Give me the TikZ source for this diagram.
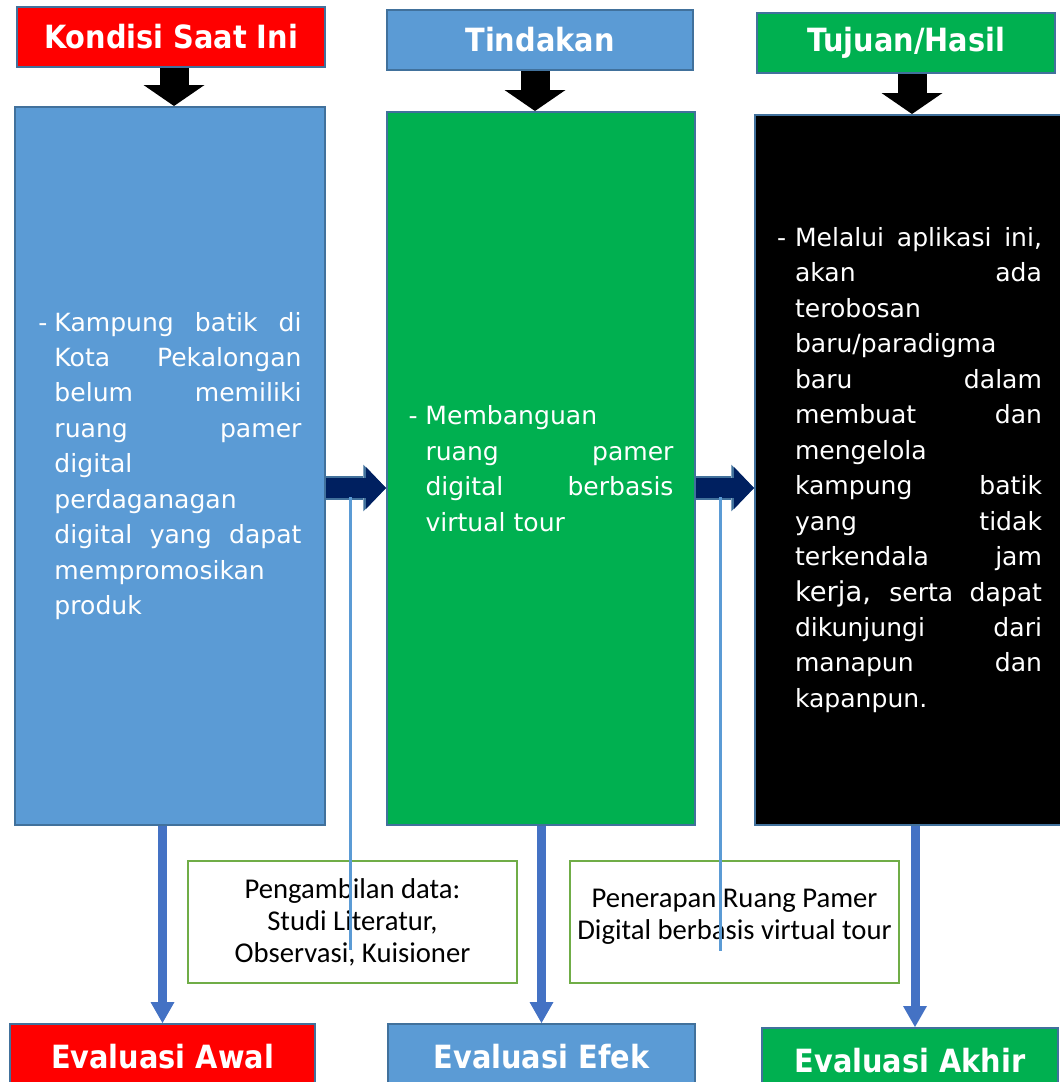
\documentclass[tikz,border=0pt]{standalone}
\usepackage{fontspec}
\setmainfont{DejaVu Sans Condensed}
\newfontfamily\dejavu{DejaVu Sans}
\newfontfamily\carlito{Carlito}
\usetikzlibrary{arrows.meta}
\definecolor{merah}{HTML}{FF0000}
\definecolor{biru}{HTML}{5B9BD5}
\definecolor{hijau}{HTML}{00B050}
\definecolor{garis}{HTML}{41719C}
\definecolor{navy}{HTML}{002060}
\definecolor{biruarah}{HTML}{4472C4}
\definecolor{hijaumuda}{HTML}{70AD47}
\newcommand{\baris}[1]{\makebox[\linewidth][s]{#1}\\}
\newcommand{\poin}[3]{\makebox[#1][l]{-}\parbox[t]{#2}{#3}}
\tikzset{judul/.style={draw=garis,line width=1.5pt,minimum height=45pt,inner sep=0pt,text=white,font=\fontsize{24}{28}\selectfont\bfseries},
kotak/.style={draw=garis,line width=1.5pt,inner sep=0pt,text=white,font=\dejavu\fontsize{18.8}{26.6}\selectfont},
catatan/.style={draw=hijaumuda,line width=1.5pt,fill=white,minimum width=246.75pt,minimum height=91.5pt,align=center,font=\carlito\fontsize{21.5}{24}\selectfont},
turun/.style={black,line width=21.75pt,-{Triangle[width=45.75pt,length=15.75pt,line width=0pt]}},
kanantepi/.style={garis,line width=17.5pt,-{Triangle[width=35pt,length=17pt,line width=0pt]}},
kanan/.style={navy,line width=15pt,-{Triangle[width=31.5pt,length=15pt,line width=0pt]}},
evaluasi/.style={biruarah,line width=6.75pt,-{Triangle[width=18pt,length=15.75pt,line width=0pt]}},
penanda/.style={biru,line width=2.25pt}}
\begin{document}
\begin{tikzpicture}[x=0.75pt,y=-0.75pt]
\useasboundingbox (0,0) rectangle (1060,1082);
% judul kolom
\node[judul,fill=merah,minimum width=231pt] (t1) at (171,37) {Kondisi Saat Ini};
\node[judul,fill=biru,minimum width=229.5pt] (t2) at (540,40) {Tindakan};
\node[judul,fill=hijau,minimum width=223.5pt] (t3) at (906,43) {Tujuan/Hasil};
% isi kolom
\node[kotak,fill=biru,minimum width=232.5pt,minimum height=538.5pt] (b1) at (170,466) {\poin{12pt}{185.25pt}{\baris{Kampung batik di}\baris{Kota Pekalongan}\baris{belum memiliki}\baris{ruang pamer}digital\\perdaganagan\\\baris{digital yang dapat}mempromosikan\\produk}};
\node[kotak,fill=hijau,minimum width=231pt,minimum height=534.75pt] (b2) at (541,468.5) {\poin{12.75pt}{186pt}{Membanguan\\\baris{ruang pamer}\baris{digital berbasis}virtual tour}};
\node[kotak,fill=black,minimum width=231.75pt,minimum height=532.5pt] (b3) at (909.5,470) {\poin{13.5pt}{185.25pt}{\baris{Melalui aplikasi ini,}\baris{akan ada}terobosan\\baru/paradigma\\\baris{baru dalam}\baris{membuat dan}mengelola\\\baris{kampung batik}\baris{yang tidak}\baris{terkendala jam}\baris{{\fontsize{20.5}{26.6}\selectfont kerja,} serta dapat}\baris{dikunjungi dari}\baris{manapun dan}kapanpun.}};
% keterangan
\node[catatan] (g1) at (352.5,922) {Pengambilan data:\\Studi Literatur,\\Observasi, Kuisioner};
\node[catatan] (g2) at (734.5,922) {Penerapan Ruang Pamer\\Digital berbasis virtual tour\\[-12pt]};
% evaluasi
\node[judul,fill=merah,minimum width=228.75pt,minimum height=49.5pt] (e1) at (162.5,1057) {Evaluasi Awal};
\node[judul,fill=biru,minimum width=230.25pt,minimum height=49.5pt] (e2) at (541.5,1057) {Evaluasi Efek};
\node[judul,fill=hijau,minimum width=222pt,minimum height=49.5pt] (e3) at (910,1061) {Evaluasi Akhir};
\coordinate (lvl) at (0,488);
\coordinate (pangkal1) at (350,497);
\coordinate (ujung1) at (350,950);
\coordinate (pangkal2) at (720,497);
\coordinate (ujung2) at (720,951);
% panah
\draw[turun] ([xshift=2.25pt]t1.south) -- ([xshift=2.25pt]t1.south |- b1.north);
\draw[turun] ([xshift=-3.75pt]t2.south) -- ([xshift=-3.75pt]t2.south |- b2.north);
\draw[turun] ([xshift=4.5pt]t3.south) -- ([xshift=4.5pt]t3.south |- b3.north);
\draw[kanantepi] (b1.east |- lvl) -- (b2.west |- lvl);
\draw[kanan] (b1.east |- lvl) -- (b2.west |- lvl);
\draw[kanantepi] (b2.east |- lvl) -- (b3.west |- lvl);
\draw[kanan] (b2.east |- lvl) -- (b3.west |- lvl);
\draw[evaluasi] (e1.north |- b1.south) -- (e1.north);
\draw[evaluasi] (e2.north |- b2.south) -- (e2.north);
\draw[evaluasi] ([xshift=3.75pt]e3.north |- b3.south) -- ([xshift=3.75pt]e3.north);
\draw[penanda] (pangkal1) -- (ujung1);
\draw[penanda] (pangkal2) -- (ujung2);
\end{tikzpicture}
\end{document}
